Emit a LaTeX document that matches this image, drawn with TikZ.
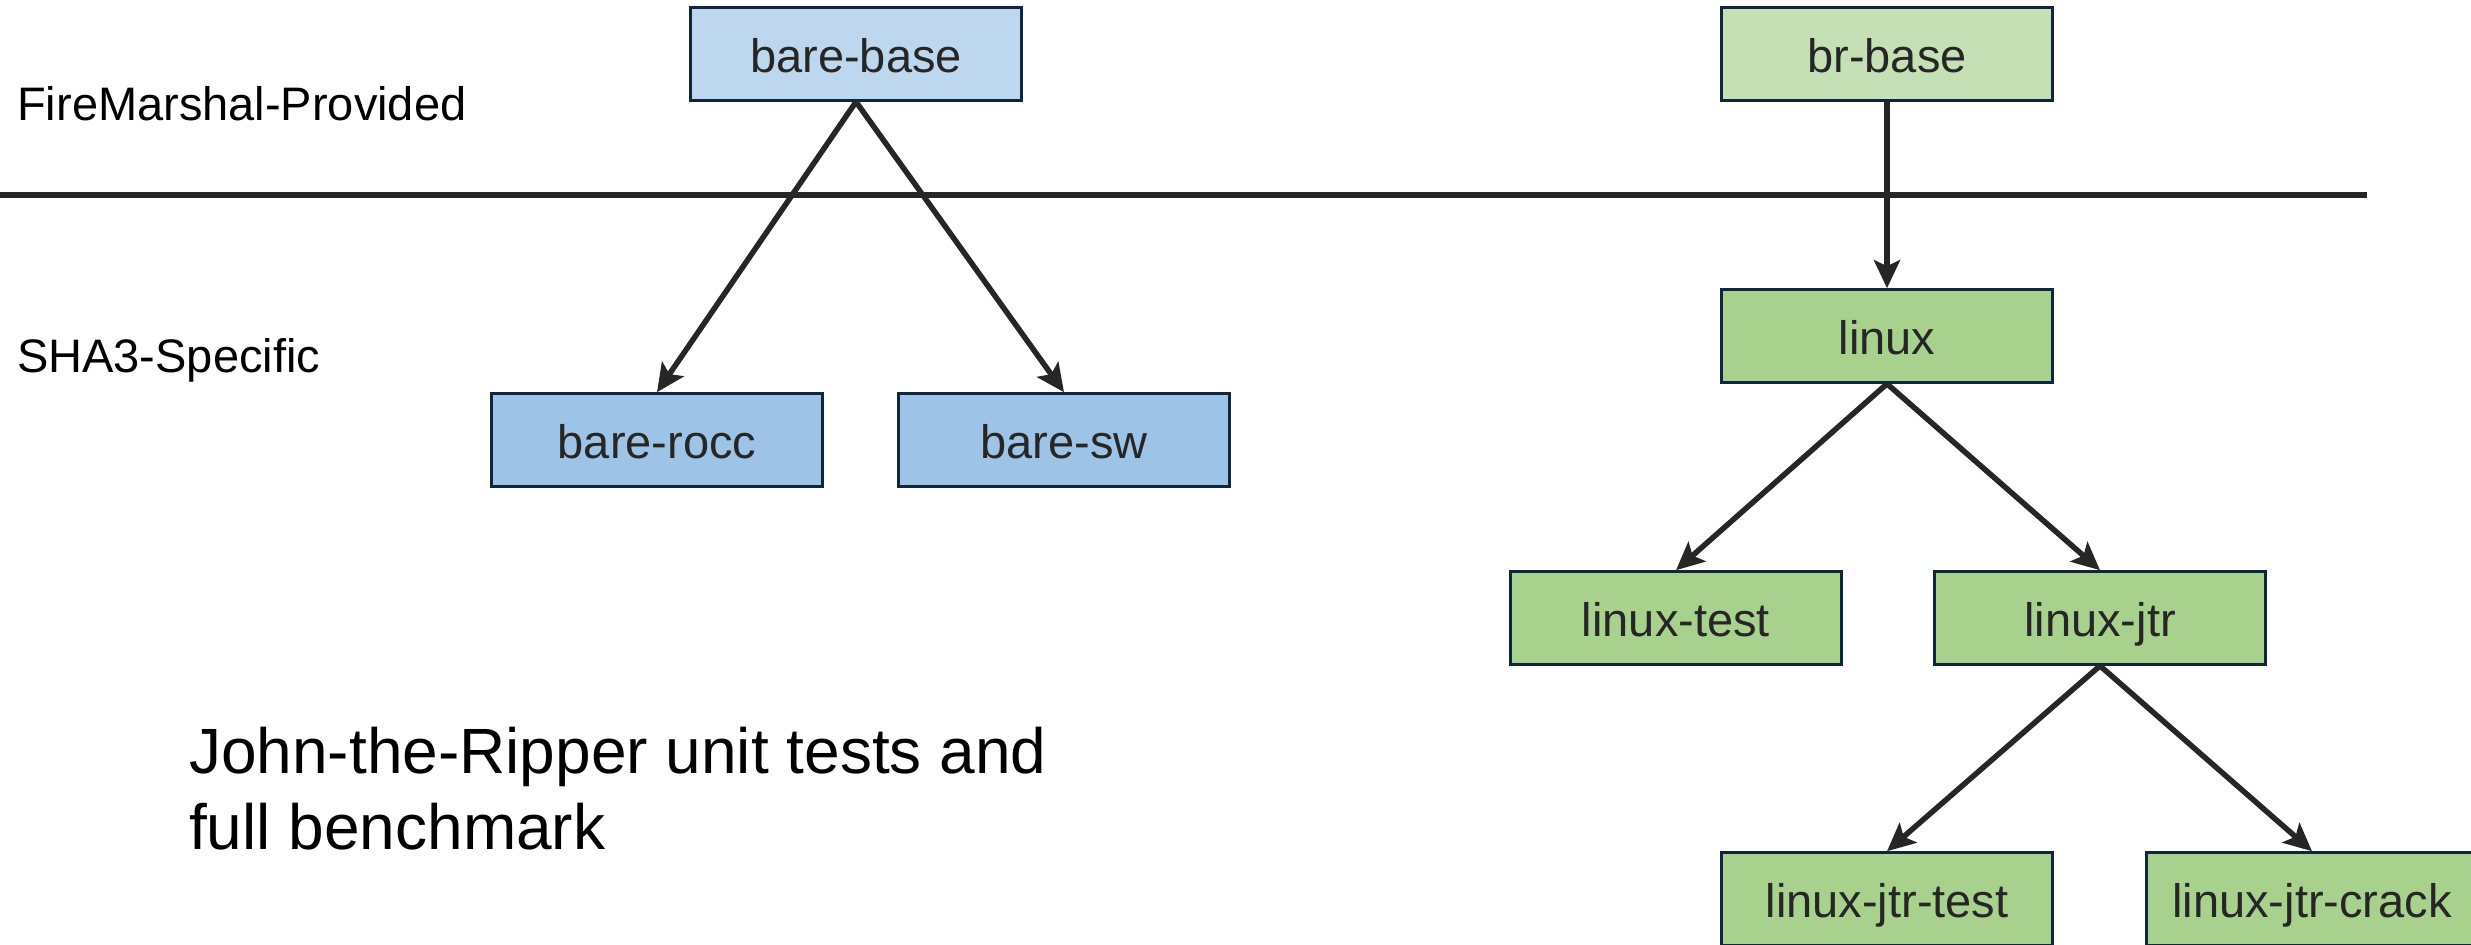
\documentclass[tikz,border=0pt]{standalone}
\usepackage{fontspec}
\setmainfont{Liberation Sans}
\usetikzlibrary{arrows.meta}
\definecolor{bluelight}{HTML}{BDD7EE}
\definecolor{bluemid}{HTML}{9DC3E6}
\definecolor{greenlight}{HTML}{C5E0B4}
\definecolor{greenmid}{HTML}{A9D18E}
\definecolor{navy}{HTML}{10253F}
\definecolor{ink}{HTML}{262626}
\tikzset{
  box/.style={draw=navy, line width=2.6pt, minimum width=331pt, minimum height=93pt,
    inner sep=0pt, text=ink, font=\fontsize{47}{56}\selectfont,
    text height=36pt, text depth=0pt},
  conn/.style={draw=ink, line width=5.5pt, -{Stealth[length=28pt,width=26pt,inset=6pt]}},
  lbl/.style={font=\fontsize{47}{56}\selectfont, text=black, inner sep=0pt, anchor=base west},
}
\begin{document}
\begin{tikzpicture}[x=1pt,y=-1pt]
\useasboundingbox (0,0) rectangle (2471,945);
\coordinate (hl) at (0,195);
\coordinate (hr) at (2367,195);
\draw[ink, line width=6.5pt] (hl) -- (hr);
\node[lbl] (fm) at (17,120) {FireMarshal-Provided};
\node[lbl] (sha) at (17,372) {SHA3-Specific};
\node[box, fill=bluelight] (bb) at (856,54) {bare-base};
\node[box, fill=greenlight] (brb) at (1887,54) {br-base};
\node[box, fill=greenmid] (lx) at (1887,336) {linux};
\node[box, fill=bluemid] (br) at (657,440) {bare-rocc};
\node[box, fill=bluemid] (bs) at (1064,440) {bare-sw};
\node[box, fill=greenmid] (lt) at (1676,618) {linux-test};
\node[box, fill=greenmid] (lj) at (2100,618) {linux-jtr};
\node[box, fill=greenmid] (ljt) at (1887,899) {linux-jtr-test};
\node[box, fill=greenmid] (ljc) at (2312,899) {linux-jtr-crack};
\draw[conn] (bb.south) -- (br.north);
\draw[conn] (bb.south) -- (bs.north);
\draw[conn] (brb.south) -- (lx.north);
\draw[conn] (lx.south) -- (lt.north);
\draw[conn] (lx.south) -- (lj.north);
\draw[conn] (lj.south) -- (ljt.north);
\draw[conn] (lj.south) -- (ljc.north);
\node[font=\fontsize{64}{76}\selectfont, text=black, inner sep=0pt, anchor=base west, align=left] (jtr) at (189,849) {John-the-Ripper unit tests and\\full benchmark};
\end{tikzpicture}
\end{document}
